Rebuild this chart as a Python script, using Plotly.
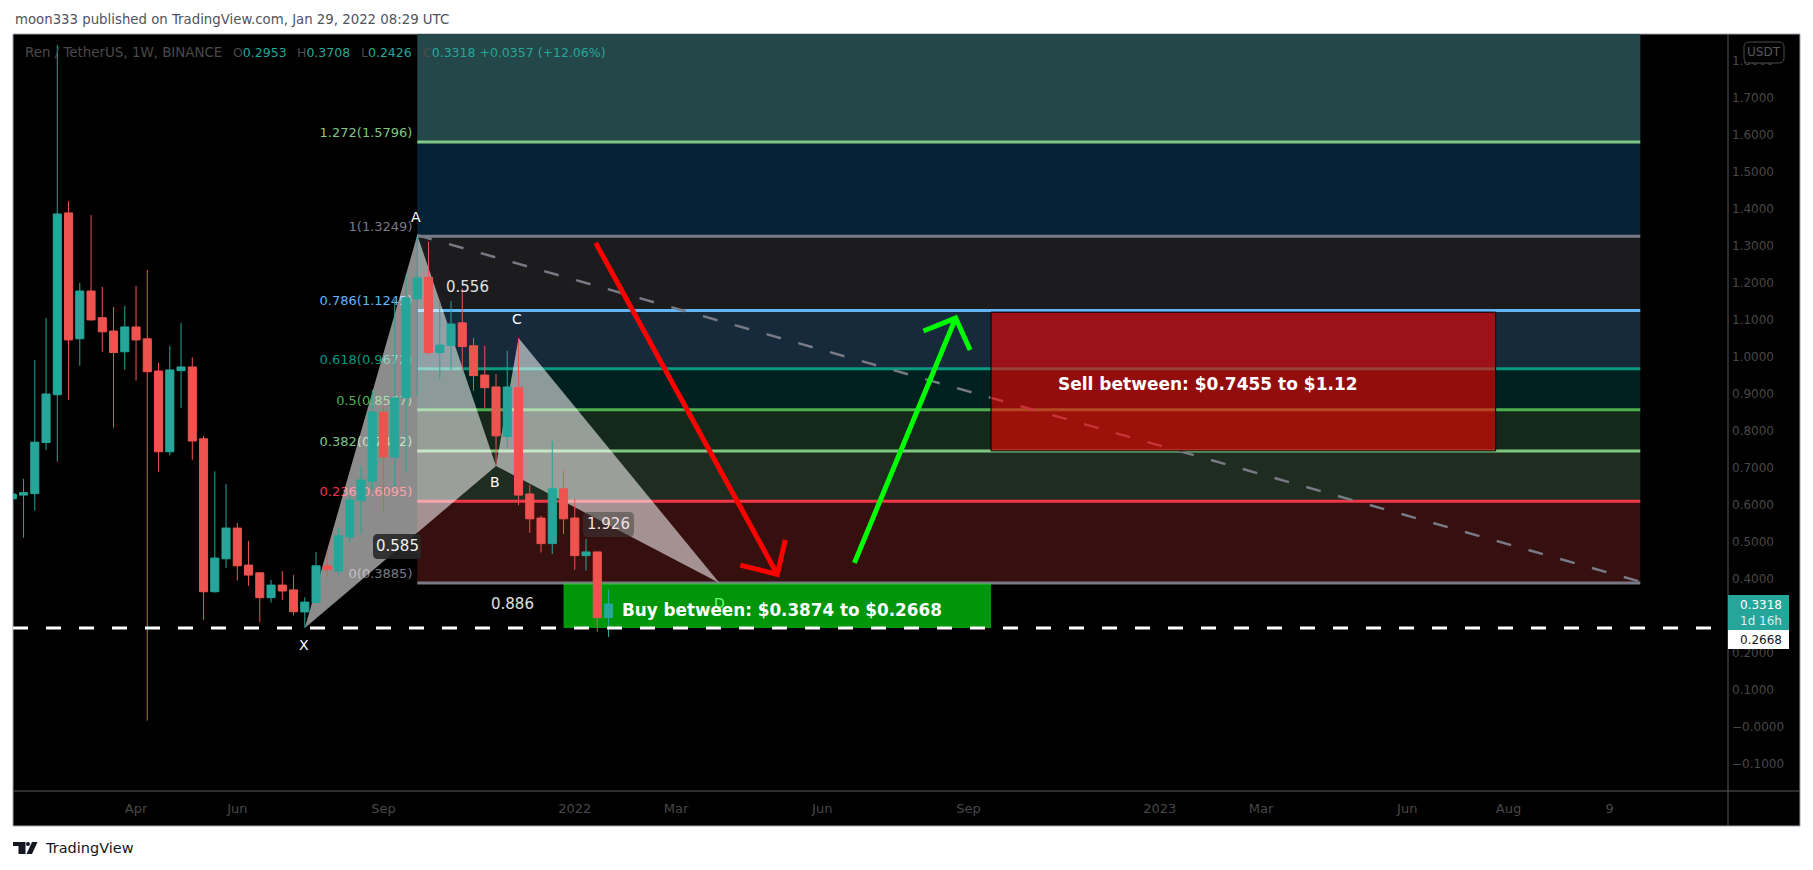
import pandas as pd
import plotly.graph_objects as go

FONT = "DejaVu Sans"

# weekly bars, Monday open
weeks = pd.date_range("2021-01-18", periods=54, freq="7D")

opens = [0.616, 0.626, 0.630, 0.768, 0.897, 1.388, 1.048, 1.177, 1.105, 1.069, 1.013, 1.080, 1.048, 0.961,
         0.743, 0.962, 0.972, 0.778, 0.365, 0.454, 0.537, 0.437, 0.416, 0.349, 0.383, 0.370, 0.3105, 0.336,
         0.435, 0.421, 0.513, 0.611, 0.664, 0.8505, 0.729, 0.889, 1.156, 1.214, 1.011, 1.030, 1.091, 1.029,
         0.950, 0.918, 0.784, 0.916, 0.629, 0.564, 0.495, 0.643, 0.564, 0.4625, 0.4725, 0.2953]
highs = [0.640, 0.670, 0.991, 1.104, 1.841, 1.420, 1.199, 1.382, 1.188, 1.134, 1.137, 1.191, 1.234, 0.983,
         1.029, 1.091, 0.998, 0.786, 0.690, 0.656, 0.551, 0.502, 0.418, 0.397, 0.421, 0.410, 0.350, 0.4725,
         0.475, 0.537, 0.624, 0.705, 0.910, 0.867, 1.153, 1.220, 1.326, 1.310, 1.1475, 1.150, 1.184, 1.050,
         1.029, 0.953, 1.015, 1.050, 0.653, 0.570, 0.772, 0.691, 0.616, 0.508, 0.473, 0.3708]
lows = [0.599, 0.511, 0.584, 0.748, 0.716, 0.883, 0.975, 1.097, 1.013, 0.808, 0.964, 0.935, 0.017, 0.689,
        0.734, 0.861, 0.721, 0.289, 0.363, 0.429, 0.395, 0.381, 0.282, 0.336, 0.343, 0.301, 0.268, 0.335,
        0.406, 0.410, 0.497, 0.521, 0.640, 0.581, 0.649, 0.689, 0.896, 1.004, 0.940, 0.964, 0.964, 0.908,
        0.861, 0.707, 0.753, 0.599, 0.524, 0.471, 0.467, 0.521, 0.424, 0.422, 0.257, 0.2426]
closes = [0.629, 0.6326, 0.769, 0.899, 1.385, 1.045, 1.177, 1.099, 1.067, 1.011, 1.080, 1.045, 0.959, 0.743,
          0.964, 0.972, 0.772, 0.365, 0.456, 0.537, 0.435, 0.410, 0.349, 0.383, 0.367, 0.311, 0.337, 0.435,
          0.425, 0.516, 0.613, 0.667, 0.8505, 0.729, 0.888, 1.158, 1.212, 1.011, 1.031, 1.088, 1.027, 0.9485,
          0.916, 0.786, 0.918, 0.626, 0.562, 0.495, 0.643, 0.562, 0.4625, 0.4725, 0.295, 0.3318]

fib_ratios = ["1.272", "1", "0.786", "0.618", "0.5", "0.382", "0.236", "0"]
fib_prices = [1.5796, 1.3249, 1.1245, 0.9672, 0.8567, 0.7452, 0.6095, 0.3885]
fib_lines = ["#81c784", "#787b86", "#64b5f6", "#089981", "#4caf50", "#81c784", "#f23645", "#787b86"]
fib_fills = ["#244849", "#062236", "#1c1c1e", "#162a3b", "#00211f", "#14291a", "#1f2c20", "#360f0f"]
fib_start = "2021-09-27"
fib_label_end = "2021-09-24"
fib_end = "2023-10-28"

pattern_names = ["X", "A", "B", "C", "D"]
pattern_dates = ["2021-07-19", "2021-09-27", "2021-11-15", "2021-11-29", "2022-04-03"]
pattern_prices = [0.267, 1.328, 0.7045, 1.050, 0.3885]

red_arrow_dates = ["2022-01-16", "2022-05-09", "2022-05-14", "2022-05-09", "2022-04-16"]
red_arrow_prices = [1.307, 0.412, 0.505, 0.412, 0.437]
green_arrow_dates = ["2022-06-26", "2022-08-28", "2022-08-08", "2022-08-28", "2022-09-06"]
green_arrow_prices = [0.443, 1.104, 1.069, 1.104, 1.018]

tick_dates = ["2021-04-05", "2021-06-07", "2021-09-06", "2022-01-03", "2022-03-07", "2022-06-06",
              "2022-09-05", "2023-01-02", "2023-03-06", "2023-06-05", "2023-08-07", "2023-10-09"]
tick_names = ["Apr", "Jun", "Sep", "2022", "Mar", "Jun", "Sep", "2023", "Mar", "Jun", "Aug", "9"]
price_ticks = [-0.1, 0.0, 0.1, 0.2, 0.4, 0.5, 0.6, 0.7, 0.8, 0.9, 1.0, 1.1, 1.2, 1.3, 1.4, 1.5, 1.6, 1.7, 1.8]
price_names = ["−0.1000", "−0.0000", "0.1000", "0.2000", "0.4000", "0.5000", "0.6000", "0.7000", "0.8000",
               "0.9000", "1.0000", "1.1000", "1.2000", "1.3000", "1.4000", "1.5000", "1.6000", "1.7000", "1.8000"]


# page pixels to paper fractions, the plot area is 13..1728 x 34..791
def px(x):
    return (x - 13) / 1715


def py(y):
    return (791 - y) / 757


def pixel_path(points):
    return "M " + " L ".join(f"{px(x)},{py(y)}" for x, y in points) + " Z"


def round_box(x0, y0, x1, y1, r):
    return (f"M {px(x0 + r)},{py(y0)} L {px(x1 - r)},{py(y0)} Q {px(x1)},{py(y0)} {px(x1)},{py(y0 + r)} "
            f"L {px(x1)},{py(y1 - r)} Q {px(x1)},{py(y1)} {px(x1 - r)},{py(y1)} "
            f"L {px(x0 + r)},{py(y1)} Q {px(x0)},{py(y1)} {px(x0)},{py(y1 - r)} "
            f"L {px(x0)},{py(y0 + r)} Q {px(x0)},{py(y0)} {px(x0 + r)},{py(y0)} Z")


def text_at(x, y, s, size=13, color="#ffffff", anchor="center"):
    return dict(xref="paper", yref="paper", x=px(x), y=py(y), text=s, showarrow=False, xanchor=anchor,
                yanchor="middle", font=dict(family=FONT, size=size, color=color))


fig = go.Figure()

fig.add_trace(go.Candlestick(
    x=weeks, open=opens, high=highs, low=lows, close=closes,
    increasing=dict(line=dict(color="#26a69a", width=1), fillcolor="#26a69a"),
    decreasing=dict(line=dict(color="#ef5350", width=1), fillcolor="#ef5350"),
    whiskerwidth=0, hoverinfo="skip",
))
fig.add_trace(go.Scatter(x=red_arrow_dates, y=red_arrow_prices, mode="lines",
                         line=dict(color="#ff0000", width=5), hoverinfo="skip"))
fig.add_trace(go.Scatter(x=green_arrow_dates, y=green_arrow_prices, mode="lines",
                         line=dict(color="#00ff00", width=5), hoverinfo="skip"))

shapes = []
# black frame of the whole widget
shapes.append(dict(type="rect", xref="paper", yref="paper", x0=px(13), x1=px(1800), y0=py(826), y1=py(34),
                   fillcolor="#000000", line=dict(color="#a0a3ad", width=1), layer="below"))

# fib bands, the top one runs past the visible range
band_tops = [1.95] + fib_prices[:-1]
for top, bottom, fill in zip(band_tops, fib_prices, fib_fills):
    shapes.append(dict(type="rect", x0=fib_start, x1=fib_end, y0=bottom, y1=top, fillcolor=fill,
                       line=dict(width=0), layer="below"))
for price, color in zip(fib_prices, fib_lines):
    shapes.append(dict(type="line", x0=fib_start, x1=fib_end, y0=price, y1=price,
                       line=dict(color=color, width=3), layer="below"))
for ratio, price, color in zip(fib_ratios, fib_prices, fib_lines):
    shapes.append(dict(type="line", x0=weeks[0], x1=fib_label_end, y0=price, y1=price, line=dict(width=0), layer="below",
                       label=dict(text=f"{ratio}({price:.4f})", textposition="end", xanchor="right", yanchor="bottom",
                                  padding=3, font=dict(family=FONT, size=13, color=color))))

# long dashed trend line
shapes.append(dict(type="line", x0=pattern_dates[1], y0=pattern_prices[1], x1=fib_end, y1=0.392,
                   line=dict(color="#787b86", width=2.5, dash="15px,18px"), layer="below"))

# XABCD triangles under the candles
for a, b, c in [(0, 1, 2), (2, 3, 4)]:
    path = "M " + " L ".join(f"{pattern_dates[i]},{pattern_prices[i]}" for i in (a, b, c)) + " Z"
    shapes.append(dict(type="path", path=path, fillcolor="rgba(255,255,255,0.55)", line=dict(width=0), layer="below"))

# D sits under the buy box
shapes.append(dict(type="line", x0="2022-04-01", x1="2022-04-05", y0=0.3885, y1=0.3885, line=dict(width=0), layer="below",
                   label=dict(text="D", textposition="middle", xanchor="center", yanchor="top", padding=11,
                              font=dict(family=FONT, size=14, color="#ffffff"))))

shapes.append(dict(type="rect", x0="2022-09-19", x1="2023-07-30", y0=0.7455, y1=1.12, fillcolor="rgba(255,0,0,0.58)",
                   line=dict(color="#000000", width=1), layer="below"))
shapes.append(dict(type="rect", x0="2021-12-27", x1="2022-09-19", y0=0.2668, y1=0.3874, fillcolor="rgba(0,255,16,0.59)",
                   line=dict(width=0), layer="below"))

# white dashed level
shapes.append(dict(type="line", xref="paper", x0=0, x1=1, y0=0.2668, y1=0.2668,
                   line=dict(color="#ffffff", width=3, dash="15px,18px")))

# axis separators
shapes.append(dict(type="line", xref="paper", yref="paper", x0=px(1728), x1=px(1728), y0=py(826), y1=py(34),
                   line=dict(color="#5a5a5a", width=1)))
shapes.append(dict(type="line", xref="paper", yref="paper", x0=px(13), x1=px(1800), y0=py(791), y1=py(791),
                   line=dict(color="#5a5a5a", width=1)))

# price tags and currency box
shapes.append(dict(type="rect", xref="paper", yref="paper", x0=px(1728), x1=px(1789), y0=py(630), y1=py(595),
                   fillcolor="#26a69a", line=dict(width=0)))
shapes.append(dict(type="rect", xref="paper", yref="paper", x0=px(1728), x1=px(1789), y0=py(649), y1=py(630),
                   fillcolor="#ffffff", line=dict(width=0)))
shapes.append(dict(type="path", xref="paper", yref="paper", path=round_box(1744, 42, 1784, 63, 5),
                   fillcolor="#000000", line=dict(color="#4a4a4a", width=1)))

# ratio label backgrounds
shapes.append(dict(type="path", xref="paper", yref="paper", path=round_box(373, 534, 421, 559, 5),
                   fillcolor="rgba(40,40,40,0.9)", line=dict(width=0)))
shapes.append(dict(type="path", xref="paper", yref="paper", path=round_box(583, 512, 634, 537, 5),
                   fillcolor="rgba(60,60,60,0.5)", line=dict(width=0)))

# TradingView logo
shapes.append(dict(type="path", xref="paper", yref="paper", line=dict(width=0), fillcolor="#131722",
                   path=pixel_path([(13, 842), (25.5, 842), (25.5, 854), (18.5, 854), (18.5, 846), (13, 846)])))
shapes.append(dict(type="circle", xref="paper", yref="paper", x0=px(26), x1=px(30), y0=py(846), y1=py(842),
                   line=dict(width=0), fillcolor="#131722"))
shapes.append(dict(type="path", xref="paper", yref="paper", line=dict(width=0), fillcolor="#131722",
                   path=pixel_path([(32, 842), (37.5, 842), (32, 854), (26.5, 854)])))

legend_gray = "#4a4a4a"
teal = "#26a69a"


def ohlc_text(letter, rest):
    return f'<span style="color:{legend_gray}">{letter}</span>{rest}'


annotations = [
    text_at(13, 19, "moon333 published on TradingView.com, Jan 29, 2022 08:29 UTC", 13.3, "#50535e", "left"),
    text_at(23, 53, "Ren / TetherUS, 1W, BINANCE", 13.4, legend_gray, "left"),
    text_at(231, 53, ohlc_text("O", "0.2953"), 12.5, teal, "left"),
    text_at(295, 53, ohlc_text("H", "0.3708"), 12.5, teal, "left"),
    text_at(358.7, 53, ohlc_text("L", "0.2426"), 12.5, teal, "left"),
    text_at(420.7, 53, ohlc_text("C", "0.3318 +0.0357 (+12.06%)"), 12.5, teal, "left"),
    text_at(416, 217, "A", 14),
    text_at(304, 645, "X", 14),
    text_at(495, 482, "B", 14),
    text_at(517, 319, "C", 14),
    text_at(467, 287, "0.556", 15, "#e0e0e0"),
    text_at(397, 546, "0.585", 15, "#f0f0f0"),
    text_at(608, 524, "1.926", 15, "#f0e0e0"),
    text_at(512, 604, "0.886", 15, "#e0e0e0"),
    text_at(1208, 384, "<b>Sell between: $0.7455 to $1.12</b>", 17, "#ffffff"),
    text_at(782, 610, "<b>Buy between: $0.3874 to $0.2668</b>", 16.8, "#ffffff"),
    text_at(1764, 52, "USDT", 12, "#5a5a5a"),
    text_at(1761, 605, "0.3318", 12, "#ffffff"),
    text_at(1761, 621, "1d 16h", 12, "#d8f0ee"),
    text_at(1761, 640, "0.2668", 12, "#131722"),
    text_at(43, 848, "TradingView", 14.5, "#131722", "left"),
]

# the page keeps the browser's 8px body margin, so the figure is 8px smaller
fig.update_layout(
    width=1805, height=862,
    margin=dict(l=5, r=85, t=26, b=79, pad=0),
    paper_bgcolor="#ffffff", plot_bgcolor="#000000",
    showlegend=False, hovermode=False, boxgap=0.28, boxgroupgap=0, dragmode=False,
    shapes=shapes, annotations=annotations,
    xaxis=dict(type="date", range=["2021-01-18 10:30", "2023-12-21 14:00"], rangeslider=dict(visible=False),
               tickmode="array", tickvals=tick_dates, ticktext=tick_names, ticks="", ticklabelstandoff=8,
               showgrid=False, zeroline=False, showline=False,
               tickfont=dict(family=FONT, size=13, color="#484848")),
    yaxis=dict(side="right", range=[-0.173, 1.871], tickmode="array", tickvals=price_ticks, ticktext=price_names,
               ticks="", ticklabelstandoff=3, showgrid=False, zeroline=False, showline=False,
               tickfont=dict(family=FONT, size=12, color="#484848")),
)

fig.write_html("out.html")
